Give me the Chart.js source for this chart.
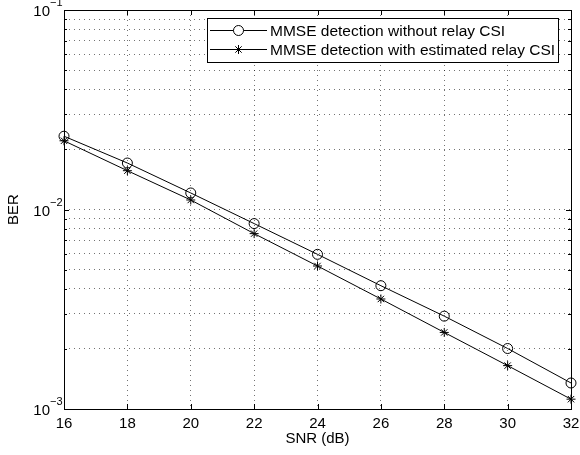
<!DOCTYPE html>
<html>
<head>
<meta charset="utf-8">
<script src="https://cdn.jsdelivr.net/npm/chart.js@4.4.0/dist/chart.umd.min.js"></script>
<style>
  html, body { margin: 0; padding: 0; background: #fff; }
  #wrap { width: 580px; height: 455px; }
</style>
</head>
<body>
<div id="wrap"><canvas id="ber-chart" width="580" height="455"></canvas></div>
<script>
// Data
const snr = [16, 18, 20, 22, 24, 26, 28, 30, 32];
const berNoCsi = [0.0233, 0.0171, 0.0121, 0.0085, 0.00596, 0.00415, 0.00292, 0.00201, 0.00135];
const berEstCsi = [0.0221, 0.01565, 0.01116, 0.00757, 0.00521, 0.00356, 0.00242, 0.00165, 0.00112];
const seriesLabels = ['MMSE detection without relay CSI', 'MMSE detection with estimated relay CSI'];
const xTicks = [16, 18, 20, 22, 24, 26, 28, 30, 32];
const yDecades = [0.001, 0.01, 0.1];
const yExponents = ['\u22123', '\u22122', '\u22121'];

const FONT = '"Liberation Sans", Arial, Helvetica, sans-serif';

// Tick marks, axis box, labels and legend (MATLAB look)
const decorations = {
  id: 'decorations',
  afterDraw(chart) {
    const { ctx, chartArea: a, scales: { x, y } } = chart;
    ctx.save();
    ctx.strokeStyle = '#000';
    ctx.lineWidth = 1;

    // axis box
    ctx.strokeRect(Math.round(a.left) + 0.5, Math.round(a.top) + 0.5,
      Math.round(a.right - a.left), Math.round(a.bottom - a.top));

    // inward ticks
    ctx.beginPath();
    xTicks.forEach(v => {
      const px = Math.round(x.getPixelForValue(v)) + 0.5;
      ctx.moveTo(px, a.bottom); ctx.lineTo(px, a.bottom - 5);
      ctx.moveTo(px, a.top); ctx.lineTo(px, a.top + 5);
    });
    y.ticks.forEach(t => {
      const py = Math.round(y.getPixelForValue(t.value)) + 0.5;
      const len = yDecades.includes(t.value) ? 5 : 3;
      ctx.moveTo(a.left, py); ctx.lineTo(a.left + len, py);
      ctx.moveTo(a.right, py); ctx.lineTo(a.right - len, py);
    });
    ctx.stroke();

    // x tick labels
    ctx.fillStyle = '#000';
    ctx.font = '15px ' + FONT;
    ctx.textAlign = 'center';
    ctx.textBaseline = 'middle';
    xTicks.forEach(v => ctx.fillText(String(v), x.getPixelForValue(v), a.bottom + 15));

    // y tick labels 10^n
    yDecades.forEach((v, i) => {
      const py = y.getPixelForValue(v);
      ctx.font = '15px ' + FONT;
      ctx.textAlign = 'right';
      ctx.fillText('10', a.left - 14, py + 2);
      ctx.font = '11px ' + FONT;
      ctx.textAlign = 'left';
      ctx.fillText(yExponents[i], a.left - 14, py - 7);
    });

    // axis titles
    ctx.font = '15px ' + FONT;
    ctx.textAlign = 'center';
    ctx.fillText('SNR (dB)', (a.left + a.right) / 2, a.bottom + 30);
    ctx.save();
    ctx.translate(14, (a.top + a.bottom) / 2);
    ctx.rotate(-Math.PI / 2);
    ctx.fillText('BER', 0, 0);
    ctx.restore();

    // legend
    const lx = 207.5, ly = 18.5, lw = 351, lh = 44;
    ctx.fillStyle = '#fff';
    ctx.fillRect(lx, ly, lw, lh);
    ctx.strokeRect(lx, ly, lw, lh);
    ctx.font = '15.5px ' + FONT;
    const rows = [30.5, 49.5];
    rows.forEach((ry, i) => {
      ctx.beginPath();
      ctx.moveTo(210, ry); ctx.lineTo(267, ry);
      ctx.stroke();
      const mx = 238.5;
      ctx.beginPath();
      if (i === 0) {
        ctx.fillStyle = '#fff';
        ctx.arc(mx, ry, 5, 0, Math.PI * 2);
        ctx.fill();
      } else {
        const r = 4.5, d = r * Math.SQRT1_2;
        ctx.moveTo(mx - r, ry); ctx.lineTo(mx + r, ry);
        ctx.moveTo(mx, ry - r); ctx.lineTo(mx, ry + r);
        ctx.moveTo(mx - d, ry - d); ctx.lineTo(mx + d, ry + d);
        ctx.moveTo(mx - d, ry + d); ctx.lineTo(mx + d, ry - d);
      }
      ctx.stroke();
      ctx.fillStyle = '#000';
      ctx.textAlign = 'left';
      ctx.fillText(seriesLabels[i], 270, ry + 1);
    });
    ctx.restore();
  }
};

new Chart(document.getElementById('ber-chart'), {
  type: 'line',
  data: {
    datasets: [
      {
        label: seriesLabels[0],
        data: snr.map((s, i) => ({ x: s, y: berNoCsi[i] })),
        borderColor: '#000',
        borderWidth: 1,
        pointStyle: 'circle',
        pointRadius: 5,
        pointBackgroundColor: 'rgba(0,0,0,0)',
        pointBorderColor: '#000',
        pointBorderWidth: 1,
        clip: false
      },
      {
        label: seriesLabels[1],
        data: snr.map((s, i) => ({ x: s, y: berEstCsi[i] })),
        borderColor: '#000',
        borderWidth: 1,
        pointStyle: 'star',
        pointRadius: 4.5,
        pointBorderColor: '#000',
        pointBorderWidth: 1,
        clip: false
      }
    ]
  },
  options: {
    responsive: false,
    animation: false,
    layout: { padding: { left: 64, right: 9, top: 10, bottom: 46 } },
    plugins: { legend: { display: false }, tooltip: { enabled: false } },
    scales: {
      x: {
        type: 'linear',
        min: 16,
        max: 32,
        afterBuildTicks: scale => { scale.ticks = xTicks.map(v => ({ value: v })); },
        ticks: { display: false },
        grid: { color: 'rgba(0,0,0,0.55)', lineWidth: 1, drawTicks: false },
        border: { display: false, dash: [1, 4] }
      },
      y: {
        type: 'logarithmic',
        min: 0.001,
        max: 0.1,
        afterBuildTicks: scale => {
          const ticks = [];
          yDecades.slice(0, -1).forEach(d => {
            for (let k = 1; k <= 9; k++) ticks.push({ value: +(k * d).toPrecision(3) });
          });
          ticks.push({ value: yDecades[yDecades.length - 1] });
          scale.ticks = ticks;
        },
        ticks: { display: false },
        grid: { color: 'rgba(0,0,0,0.55)', lineWidth: 1, drawTicks: false },
        border: { display: false, dash: [1, 4] }
      }
    }
  },
  plugins: [decorations]
});
</script>
</body>
</html>
